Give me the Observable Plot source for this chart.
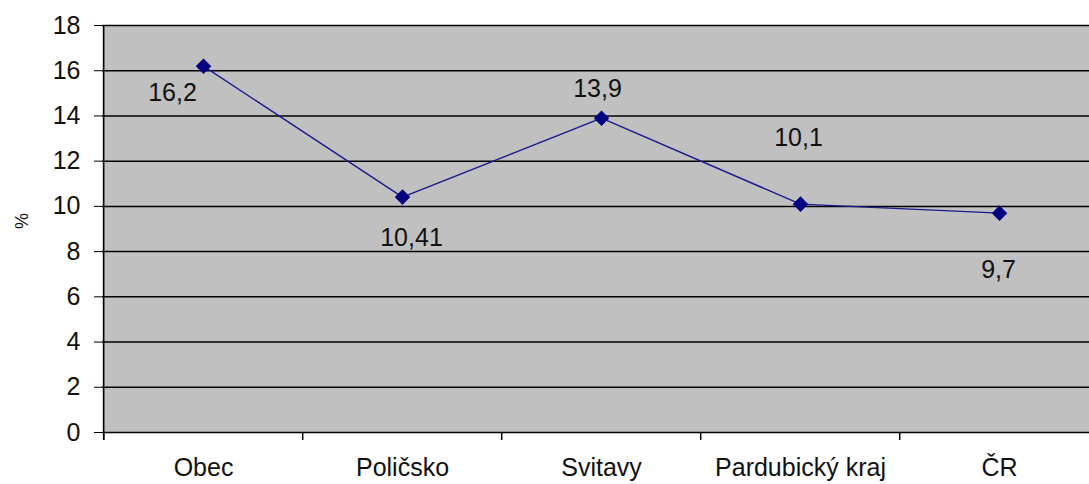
<!DOCTYPE html>
<html><head><meta charset="utf-8">
<script src="https://cdn.jsdelivr.net/npm/d3@7"></script>
<script src="https://cdn.jsdelivr.net/npm/@observablehq/plot@0.6"></script>
<style>body{margin:0;background:#fff} svg{display:block}</style>
</head><body><div id="chart"></div><script>
const categories = ["Obec", "Poličsko", "Svitavy", "Pardubický kraj", "ČR"];
const values = [16.2, 10.41, 13.9, 10.1, 9.7];
const valueLabels = ["16,2", "10,41", "13,9", "10,1", "9,7"];
const yTicks = [0, 2, 4, 6, 8, 10, 12, 14, 16, 18];
const yTitle = "%";

const data = categories.map((c, i) => ({category: c, value: values[i], label: valueLabels[i]}));

const W = 1089, H = 484, mL = 102, mT = 25, mB = 52;
const xRange = [102, 1100];
const step = (xRange[1] - xRange[0]) / categories.length;
const plotH = H - mT - mB;
const FS = 25;
// label placement offsets (style), matching the original layout
const labelOffsets = [[-31, 27], [9, 41], [-4, -29], [-2, -66], [-1, 57]];

const labelMarks = data.map((d, i) => Plot.text([d], {
  x: "category", y: "value", text: "label",
  dx: labelOffsets[i][0], dy: labelOffsets[i][1],
  fontSize: FS, fill: "#111"
}));

const chart = Plot.plot({
  width: W, height: H,
  marginLeft: mL, marginRight: 0, marginTop: mT, marginBottom: mB,
  style: {fontFamily: "'Liberation Sans', Arial, sans-serif", background: "#fff", color: "#111"},
  x: {type: "point", domain: categories, range: xRange, padding: 0.5},
  y: {domain: [0, 18], range: [H - mB, mT]},
  marks: [
    Plot.frame({fill: "#c0c0c0", stroke: null}),
    Plot.ruleY(yTicks, {stroke: "#000", strokeWidth: 1.5}),
    Plot.ruleX(categories, {x: d => d, dx: -step / 2, stroke: "#000", strokeWidth: 1.5, insetTop: plotH, insetBottom: -8}),
    Plot.ruleX([categories[0]], {x: d => d, dx: -step / 2, stroke: "#000", strokeWidth: 1.5, insetBottom: -8}),
    Plot.axisY(yTicks, {tickSize: 8, tickPadding: 14, fontSize: FS, stroke: "#000", label: null}),
    Plot.axisX({tickSize: 0, tickPadding: 26, fontSize: FS, label: null}),
    Plot.text([yTitle], {frameAnchor: "left", dx: -80, rotate: -90, fontSize: 18, fill: "#111"}),
    Plot.line(data, {x: "category", y: "value", stroke: "#1a1a8c", strokeWidth: 1.4}),
    Plot.dot(data, {x: "category", y: "value", symbol: "diamond2", r: 7, fill: "#000080", stroke: null}),
    ...labelMarks
  ]
});
document.getElementById("chart").appendChild(chart);
</script></body></html>
